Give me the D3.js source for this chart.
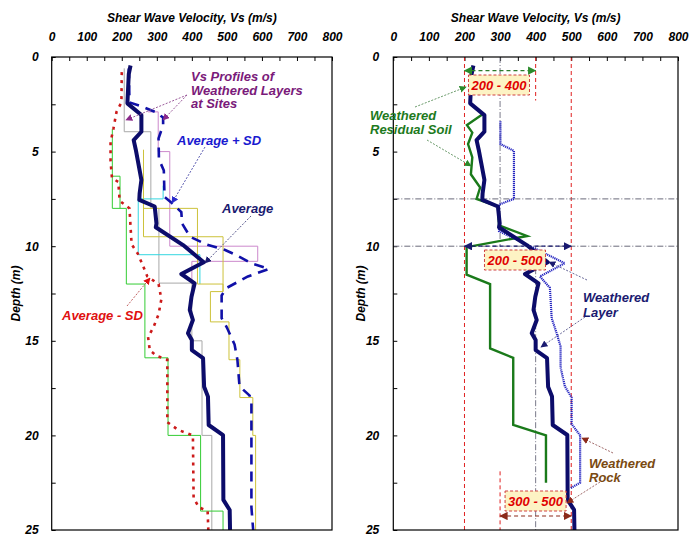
<!DOCTYPE html>
<html><head><meta charset="utf-8">
<script src="https://cdn.jsdelivr.net/npm/d3@7"></script>
<style>
body{margin:0;background:#fff}
svg{display:block}
text{font-family:"Liberation Sans",Arial,sans-serif;font-weight:bold;font-style:italic}
</style>
</head><body><svg id="c" width="698" height="548"></svg>
<script>
// ---------------- DATA ----------------
const velocityTicks = [0,100,200,300,400,500,600,700,800];
const depthTicks = [0,5,10,15,20,25];
const axisTitle = "Shear Wave Velocity, Vs (m/s)";
const depthTitle = "Depth (m)";

// [depth (m), Vs (m/s)]
const averageProfile = [[0.45,225],[0.9,220],[2.45,216],[3.07,256],[3.95,256],[4.39,234],[4.9,240],[5.6,247],[6.5,256],[7.2,251],[7.55,250],[7.9,294],[8.8,299],[9.0,297],[9.94,375],[10.85,434],[11.47,370],[11.96,408],[12.67,399],[13.37,394],[13.9,403],[14.6,389],[14.96,400],[15.49,400],[15.92,432],[17.43,435],[17.95,446],[19.45,448],[19.98,489],[23.41,490],[23.94,508],[25,509]];
const averagePlusSD = [[0.6,220],[2.4,222],[2.6,255],[2.9,295],[3.2,318],[3.6,318],[4.3,305],[5.4,306],[6.0,320],[7.4,322],[7.7,342],[8.2,370],[8.8,372],[9.5,395],[9.9,440],[10.2,495],[10.5,530],[10.9,570],[11.2,620],[11.6,560],[12.2,500],[12.6,485],[13.8,485],[14.3,500],[15.2,522],[16.0,530],[17.4,536],[17.9,565],[18.3,570],[23.8,570],[25,575]];
const averageMinusSD = [[0.8,200],[2.4,199],[2.9,185],[3.8,176],[4.5,168],[5.5,168],[6.4,172],[6.6,190],[7.6,194],[8.0,222],[9.9,228],[10.4,246],[11.1,262],[11.6,273],[12.0,305],[12.8,313],[13.6,305],[14.3,290],[14.8,275],[15.5,280],[15.8,300],[16.0,330],[19.3,330],[19.7,360],[20.0,403],[23.3,405],[23.8,420],[24.0,445],[25,447]];

// site step profiles: [layer top depth (m), Vs (m/s)]
const siteGreenA = [[3.8,173],[8.0,213],[12.0,266],[15.9,332],[20.0,425],[24.0,489]];
const siteGreenB = [[6.3,173],[6.3,195]];
const siteGray = [[0.6,207],[3.95,283],[8.0,306],[11.95,400],[15.0,429],[20.0,457]];
const siteYellowA = [[4.9,262],[9.5,489],[12.4,453],[14.0,506],[16.0,537],[18.0,574],[20.0,582]];
const siteYellowB = [[8.0,262],[8.0,416],[12.0,489]];
const siteCyan = [[6.8,318],[7.5,247],[10.45,423]];
const sitePink = [[2.9,275],[2.9,304],[5.0,337],[10.0,588],[10.8,400]];
const siteBottoms = {green:25, green2:8.0, gray:25, yellow:25, yellow2:12.4, cyan:12.0, pink:11.95};

// right panel
const weatheredLayerProfile = [[3.4,301],[4.6,301],[4.96,339],[7.5,339],[7.8,297],[9.2,297],[10.9,482],[11.6,412],[12.2,440],[13.8,445],[14.6,459],[15.3,470],[16.4,470],[17.4,482],[18.0,501],[19.4,501],[20.0,525],[22.5,525],[22.8,497]];
const residualSoilProfile = [[3.0,253],[3.6,207],[4.0,222],[4.6,210],[5.3,222],[6.2,218],[6.9,244],[7.5,234],[7.9,294],[8.9,297],[9.46,376],[10.05,206],[11.5,206],[12.0,272],[15.4,272],[15.9,337],[19.45,337],[20.0,429],[22.5,429]];
const rangeLabels = ["200 - 400","200 - 500","300 - 500"];
const rangeSpans = [[200,400,0.72],[200,500,10.0],[300,500,24.26]];
const layerBoundaries = [7.5,10.0];

// ---------------- SCALES ----------------
const svg = d3.select("#c");
const y = d3.scaleLinear().domain([0,25]).range([57,530]);
const xL = d3.scaleLinear().domain([0,800]).range([51.7,332]);
const xR = d3.scaleLinear().domain([0,800]).range([393.3,678]);
const minor = d3.range(0,801,50);
const depthMinor = d3.range(0,25.01,2.5);

// markers
const defs = svg.append("defs");
function marker(id,color){
  defs.append("marker").attr("id",id).attr("viewBox","0 0 10 10").attr("refX",9).attr("refY",5)
   .attr("markerWidth",7).attr("markerHeight",7).attr("orient","auto-start-reverse")
   .append("path").attr("d","M0,0L10,5L0,10z").attr("fill",color);
}
marker("mPurple","#8a2a8a");marker("mBlue","#2a2acc");marker("mNavy","#1a1a70");
marker("mRed","#e01010");marker("mGreen","#2a8a2a");marker("mBrown","#8b2a1a");marker("mNavy2","#1a1a70");

function panel(x, labelPad, titleX){
  const g = svg.append("g");
  g.append("text").attr("x",(x.range()[0]+x.range()[1])/2).attr("y",22).attr("text-anchor","middle")
    .attr("font-size",12).text(axisTitle);
  const top = g.append("g").attr("transform","translate(0,57)")
    .call(d3.axisTop(x).tickValues(minor).tickSize(-4).tickPadding(16)
      .tickFormat(d=> d%100===0 ? d : ""));
  top.select(".domain").remove();
  top.selectAll("text").attr("font-size",12).attr("font-family",null).attr("fill","#000");
  top.selectAll("line").attr("stroke","#000");
  const left = g.append("g").attr("transform",`translate(${x.range()[0]},0)`)
    .call(d3.axisLeft(y).tickValues(depthMinor).tickSize(-4).tickPadding(labelPad)
      .tickFormat(d=> depthTicks.includes(d) ? d : ""));
  left.select(".domain").remove();
  left.selectAll("text").attr("font-size",12).attr("font-family",null).attr("fill","#000");
  left.selectAll("line").attr("stroke","#000");
  g.append("text").attr("transform",`translate(${titleX},${(y(0)+y(25))/2}) rotate(-90)`)
    .attr("text-anchor","middle").attr("font-size",12).text(depthTitle);
  return g;
}

const line = x => d3.line().x(p=>x(p[1])).y(p=>y(p[0]));
function stepPts(layers,bottom){
  const pts=[];
  layers.forEach((l,i)=>{const nd = i<layers.length-1?layers[i+1][0]:bottom; pts.push([l[0],l[1]],[nd,l[1]]);});
  return pts;
}
function arrow(g,x1,y1,x2,y2,color,mk,dash){
  g.append("line").attr("x1",x1).attr("y1",y1).attr("x2",x2).attr("y2",y2)
   .attr("stroke",color).attr("stroke-width",1).attr("stroke-dasharray",dash||"2,1.5")
   .attr("marker-end",`url(#${mk})`);
}
function multiText(g,x0,y0,lines,color,size,lh){
  const t=g.append("text").attr("x",x0).attr("y",y0).attr("fill",color).attr("font-size",size);
  lines.forEach((s,i)=>t.append("tspan").attr("x",x0).attr("dy",i?lh:0).text(s));
}

// ---------------- LEFT PANEL ----------------
const gL = panel(xL, 13, 20);
const lL = line(xL);
const sites = [
  [siteGray, siteBottoms.gray, "#a8a8a8"],
  [sitePink, siteBottoms.pink, "#cc88cc"],
  [siteCyan, siteBottoms.cyan, "#33d6e0"],
  [siteYellowB, siteBottoms.yellow2, "#cdc23a"],
  [siteYellowA, siteBottoms.yellow, "#cdc23a"],
  [siteGreenB, siteBottoms.green2, "#33cc33"],
  [siteGreenA, siteBottoms.green, "#33cc33"]
];
sites.forEach(([lay,b,c])=>gL.append("path").attr("d",lL(stepPts(lay,b))).attr("fill","none").attr("stroke",c).attr("stroke-width",1));
gL.append("path").attr("d",lL(averageMinusSD)).attr("fill","none").attr("stroke","#cc1a1a").attr("stroke-width",2.6).attr("stroke-dasharray","3,5");
gL.append("path").attr("d",lL(averagePlusSD)).attr("fill","none").attr("stroke","#1010a8").attr("stroke-width",2.6).attr("stroke-dasharray","10,7");
gL.append("path").attr("d",lL(averageProfile)).attr("fill","none").attr("stroke","#0c0c6a").attr("stroke-width",4).attr("stroke-linejoin","round");
gL.append("rect").attr("x",xL(0)).attr("y",y(0)).attr("width",xL(800)-xL(0)).attr("height",y(25)-y(0)).attr("fill","none").attr("stroke","#000").attr("stroke-width",1.2);

multiText(gL,191,81,["Vs Profiles of","Weathered Layers","at Sites"],"#7a1a7a",13,13.5);
arrow(gL,187,95,126,120,"#9a5a9a","mPurple");
arrow(gL,187,95,163,120,"#9a5a9a","mPurple");
gL.append("text").attr("x",177).attr("y",145).attr("fill","#1a1ad0").attr("font-size",13).text("Average + SD");
arrow(gL,205,147,172,203,"#5a5ab0","mBlue");
gL.append("text").attr("x",222).attr("y",213).attr("fill","#1a1a70").attr("font-size",13).text("Average");
arrow(gL,251,216,205,263,"#5a5a90","mNavy");
gL.append("text").attr("x",62).attr("y",320).attr("fill","#e01010").attr("font-size",13).text("Average - SD");
arrow(gL,127,306,150,278,"#c06060","mRed");

// ---------------- RIGHT PANEL ----------------
const gR = panel(xR, 14, 365);
const lR = line(xR);
// reference lines
[200,500].forEach(v=>gR.append("line").attr("x1",xR(v)).attr("x2",xR(v)).attr("y1",y(0)).attr("y2",y(25)).attr("stroke","#e02020").attr("stroke-width",1).attr("stroke-dasharray","4,3"));
gR.append("line").attr("x1",xR(400)).attr("x2",xR(400)).attr("y1",y(0)).attr("y2",y(2.3)).attr("stroke","#e02020").attr("stroke-dasharray","4,3");
gR.append("line").attr("x1",xR(300)).attr("x2",xR(300)).attr("y1",y(21.9)).attr("y2",y(25)).attr("stroke","#e02020").attr("stroke-dasharray","4,3");
gR.append("line").attr("x1",xR(300)).attr("x2",xR(300)).attr("y1",y(0)).attr("y2",y(10)).attr("stroke","#7a7a8a").attr("stroke-dasharray","6,2,1,2");
gR.append("line").attr("x1",xR(400)).attr("x2",xR(400)).attr("y1",y(10)).attr("y2",y(25)).attr("stroke","#7a7a8a").attr("stroke-dasharray","6,2,1,2");
layerBoundaries.forEach(d=>gR.append("line").attr("x1",xR(0)).attr("x2",xR(800)).attr("y1",y(d)).attr("y2",y(d)).attr("stroke","#6a6a7a").attr("stroke-dasharray","6,2,1,2"));

gR.append("path").attr("d",lR(residualSoilProfile)).attr("fill","none").attr("stroke","#1a7a1a").attr("stroke-width",2.4);
gR.append("path").attr("d",lR(weatheredLayerProfile)).attr("fill","none").attr("stroke","#2424c0").attr("stroke-width",2.2).attr("stroke-dasharray","1.2,0.8");
gR.append("path").attr("d",lR(averageProfile)).attr("fill","none").attr("stroke","#0c0c6a").attr("stroke-width",4).attr("stroke-linejoin","round");

// range arrows and boxes
const spanColors = [["#2a7a2a","mGreen"],["#1a1a70","mNavy2"],["#8b2a1a","mBrown"]];
rangeSpans.forEach(([a,b,d],i)=>{
  gR.append("line").attr("x1",xR(a)).attr("x2",xR(b)).attr("y1",y(d)).attr("y2",y(d))
    .attr("stroke",spanColors[i][0]).attr("stroke-width",1.2).attr("stroke-dasharray","4,3")
    .attr("marker-start",`url(#${spanColors[i][1]})`).attr("marker-end",`url(#${spanColors[i][1]})`);
});
const boxPos = [[xR(200)+4,75],[xR(200)+20,250],[xR(300)+5,491]];
boxPos.forEach(([bx,by],i)=>{
  gR.append("rect").attr("x",bx).attr("y",by).attr("width",61).attr("height",20)
    .attr("fill","#fdf3c4").attr("stroke","#d04040").attr("stroke-width",1).attr("stroke-dasharray","3,2");
  gR.append("text").attr("x",bx+30.5).attr("y",by+15).attr("text-anchor","middle").attr("fill","#e00000").attr("font-size",13).text(rangeLabels[i]);
});
gR.append("rect").attr("x",xR(0)).attr("y",y(0)).attr("width",xR(800)-xR(0)).attr("height",y(25)-y(0)).attr("fill","none").attr("stroke","#000").attr("stroke-width",1.2);

multiText(gR,370,120,["Weathered","Residual Soil"],"#1d7a1d",13,14);
arrow(gR,415,107,466,87,"#6a9a6a","mGreen");
arrow(gR,427,140,471,166,"#6a9a6a","mGreen");
multiText(gR,583,302,["Weathered","Layer"],"#1a1a70",13,14.5);
arrow(gR,587,280,549,262,"#6a6a9a","mNavy");
arrow(gR,585,317,541,347,"#6a6a9a","mNavy");
multiText(gR,589,468,["Weathered","Rock"],"#7a4a12",13,14);
arrow(gR,613,453,582,438,"#a06a6a","mBrown");
arrow(gR,600,482,567,503,"#a06a6a","mBrown");
</script></body></html>
